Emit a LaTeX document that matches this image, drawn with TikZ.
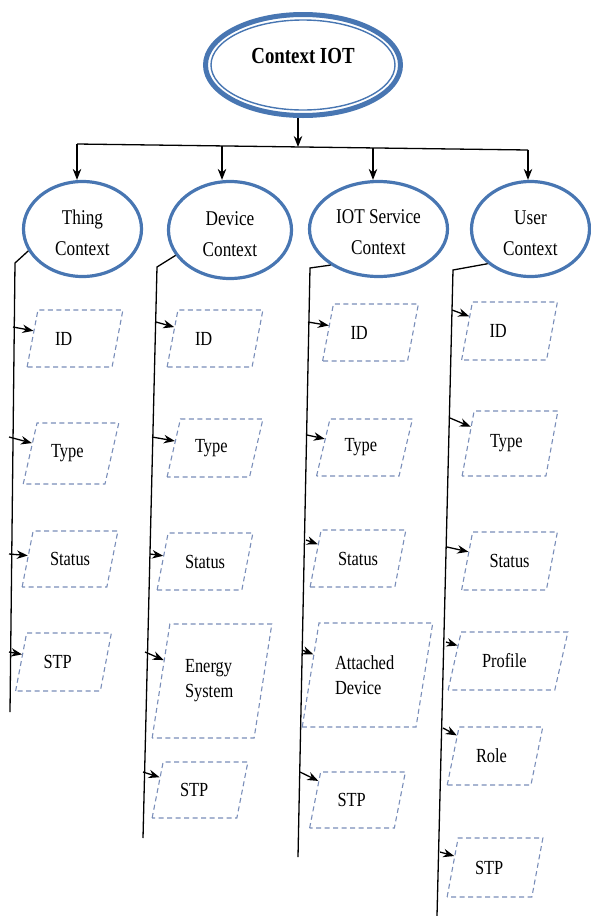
\documentclass[tikz,border=0pt]{standalone}
\usepackage{fontspec}
\setmainfont{Liberation Serif}[FakeStretch=0.82]
\usetikzlibrary{shapes.geometric,arrows.meta}
\definecolor{ellblue}{RGB}{72,118,178}
\definecolor{dashblue}{RGB}{122,142,185}
\begin{document}
\begin{tikzpicture}[x=1pt,y=-1pt,
  ctxnode/.style={ellipse, draw=ellblue, line width=3.2pt, inner sep=0pt, align=center,
    font=\fontsize{21}{31}\selectfont},
  attr/.style={trapezium, trapezium left angle=66, trapezium right angle=114,
    trapezium stretches=true, draw=dashblue, line width=1.1pt,
    dash pattern=on 5pt off 3.5pt, minimum width=96pt, minimum height=57pt,
    inner sep=0pt, text width=40pt, align=left, font=\fontsize{20}{25}\selectfont},
  conn/.style={line width=1.3pt, black},
  arr/.style={conn, -{Stealth[length=11pt,width=8.5pt]}},
]
\useasboundingbox (0,0) rectangle (591,916);

% title
\node[ellipse, draw=ellblue, line width=5pt, minimum width=195pt, minimum height=101pt,
  inner sep=0pt, text height=16pt, text depth=20pt,
  font=\bfseries\fontsize{23}{27}\selectfont] (ctx) at (303,65) {Context IOT};
\draw[ellblue, line width=1.4pt] (ctx.center) ellipse [x radius=92, y radius=45];

% context ellipses
\node[ctxnode, minimum width=118pt, minimum height=95pt] (thing) at (82.5,229) {\rule{0pt}{23pt}Thing\\Context};
\node[ctxnode, minimum width=123pt, minimum height=97pt] (device) at (230,230) {\rule{0pt}{23pt}Device\\Context};
\node[ctxnode, minimum width=138pt, minimum height=95pt] (iot) at (378.5,229) {\rule{0pt}{20pt}IOT Service\\Context};
\node[ctxnode, minimum width=118pt, minimum height=95pt] (user) at (530.5,229) {\rule{0pt}{23pt}User\\Context};

% distribution bar
\coordinate (hL) at (77,144);
\coordinate (hR) at (528,150);
\coordinate (hD) at (222,146);
\coordinate (hC) at (298,147);
\coordinate (hI) at (373,148);
\draw[arr] (ctx.south -| hC) -- (hC);
\draw[conn] (hL) -- (hR);
\draw[arr] (hL) -- (hL |- thing.north);
\draw[arr] (hD) -- (hD |- device.north);
\draw[arr] (hI) -- (hI |- iot.north);
\draw[arr] (hR) -- (hR |- user.north);

% branch lines
\coordinate (tTop) at (15,263);  \coordinate (tBot) at (10,712);
\coordinate (dTop) at (157,267); \coordinate (dBot) at (143,838);
\coordinate (iTop) at (310,268); \coordinate (iBot) at (298,857);
\coordinate (uTop) at (453,270); \coordinate (uBot) at (437,916);
\draw[conn] (thing.202) -- (tTop) -- (tBot);
\draw[conn] (device.205) -- (dTop) -- (dBot);
\draw[conn] (iot.217) -- (iTop) -- (iBot);
\draw[conn] (user.219) -- (uTop) -- (uBot);

% thing attributes
\node[attr] (tID) at (75,338.5) {ID};
\node[attr, minimum height=61pt, trapezium left angle=65, trapezium right angle=115] (tType) at (71,453.5) {Type};
\node[attr, minimum height=56pt] (tStatus) at (70,559) {Status};
\node[attr, minimum height=58pt] (tSTP) at (63.5,662) {STP};

% device attributes
\node[attr] (dID) at (215,338.5) {ID};
\node[attr, minimum height=58pt] (dType) at (215,448) {Type};
\node[attr] (dStatus) at (205,561.5) {Status};
\node[attr, minimum width=120pt, minimum height=114pt, text width=54pt, trapezium left angle=75, trapezium right angle=105] (dEnergy) at (212,681) {Energy\\System};
\node[attr, minimum height=56pt] (dSTP) at (200,790) {STP};

% iot attributes
\node[attr] (iID) at (370.5,332.5) {ID};
\node[attr] (iType) at (364.5,447.5) {Type};
\node[attr] (iStatus) at (358,558.5) {Status};
\node[attr, minimum width=131pt, minimum height=104pt, text width=65pt, trapezium left angle=74, trapezium right angle=106] (iAtt) at (367.5,675) {Attached\\Device};
\node[attr, minimum height=56pt] (iSTP) at (357.5,800) {STP};

% user attributes
\node[attr, minimum height=58pt] (uID) at (509.5,331) {ID};
\node[attr, minimum height=65pt, trapezium left angle=69, trapezium right angle=111] (uType) at (510,443.5) {Type};
\node[attr, minimum height=58pt] (uStatus) at (509.5,561) {Status};
\node[attr, minimum width=120pt, minimum height=58pt, text width=52pt, trapezium left angle=63, trapezium right angle=117] (uProfile) at (508,661) {Profile};
\node[attr, minimum height=58pt, text width=38pt] (uRole) at (495,756) {Role};
\node[attr, minimum height=59pt] (uSTP) at (495,867.5) {STP};

% arrow start points
\coordinate (s1) at (13,327);  \coordinate (s2) at (9,437);
\coordinate (s3) at (9,554);   \coordinate (s4) at (9,652);
\coordinate (s5) at (156,322); \coordinate (s6) at (152,437);
\coordinate (s7) at (150,554); \coordinate (s8) at (145,652);
\coordinate (s9) at (143,772);
\coordinate (s10) at (308,322); \coordinate (s11) at (307,435);
\coordinate (s12) at (306,540); \coordinate (s13) at (302,650);
\coordinate (s14) at (300,772);
\coordinate (s15) at (452,310); \coordinate (s16) at (450,418);
\coordinate (s17) at (447,547); \coordinate (s18) at (446,642);
\coordinate (s19) at (443,728); \coordinate (s20) at (440,852);

\draw[arr] (s1) -- (tID);
\draw[arr] (s2) -- (tType);
\draw[arr] (s3) -- (tStatus);
\draw[arr] (s4) -- (tSTP);
\draw[arr] (s5) -- (dID);
\draw[arr] (s6) -- (dType);
\draw[arr] (s7) -- (dStatus);
\draw[arr] (s8) -- (dEnergy);
\draw[arr] (s9) -- (dSTP);
\draw[arr] (s10) -- (iID);
\draw[arr] (s11) -- (iType);
\draw[arr] (s12) -- (iStatus);
\draw[arr] (s13) -- (iAtt);
\draw[arr] (s14) -- (iSTP);
\draw[arr] (s15) -- (uID);
\draw[arr] (s16) -- (uType);
\draw[arr] (s17) -- (uStatus);
\draw[arr] (s18) -- (uProfile);
\draw[arr] (s19) -- (uRole);
\draw[arr] (s20) -- (uSTP);
\end{tikzpicture}
\end{document}
